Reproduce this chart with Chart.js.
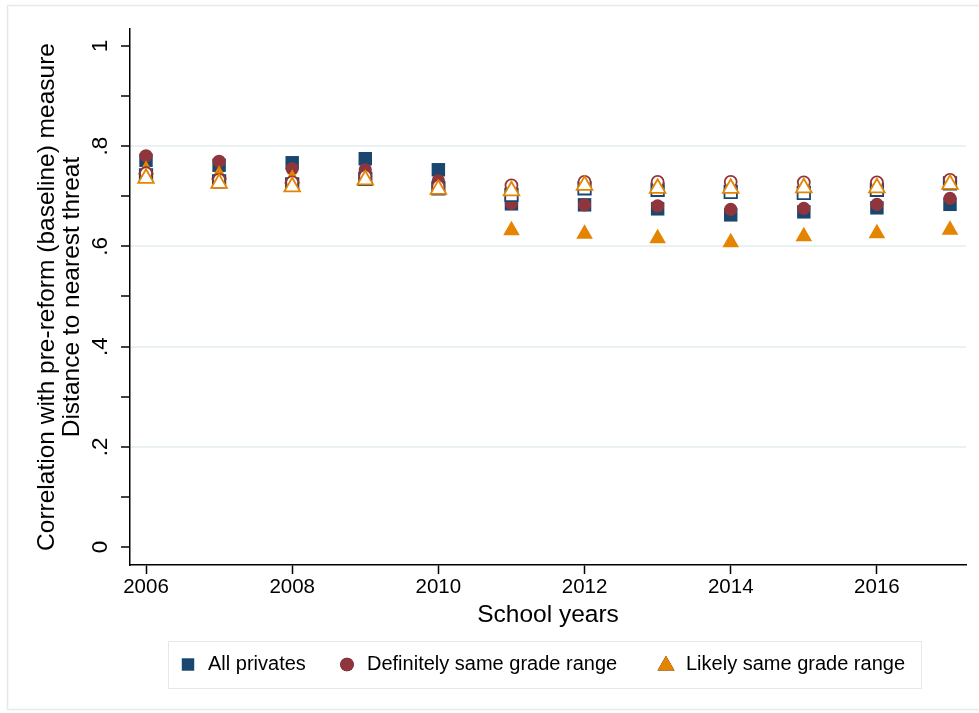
<!DOCTYPE html>
<html><head><meta charset="utf-8">
<script src="https://cdn.jsdelivr.net/npm/chart.js@4/dist/chart.umd.min.js"></script>
<style>html,body{margin:0;padding:0;background:#fff;overflow:hidden}#wrap{position:relative;width:979px;height:713px}</style>
</head><body><div id="wrap"><canvas id="c" width="979" height="713"></canvas></div>
<script>
// ---- data ----
const years = [2006, 2007, 2008, 2009, 2010, 2011, 2012, 2013, 2014, 2015, 2016, 2017];
const allPrivatesFilled   = [0.772, 0.762, 0.767, 0.775, 0.753, 0.685, 0.683, 0.675, 0.663, 0.669, 0.677, 0.684];
const definitelySameFilled = [0.781, 0.770, 0.755, 0.753, 0.731, 0.686, 0.683, 0.681, 0.674, 0.676, 0.684, 0.696];
const likelySameFilled    = [0.753, 0.743, 0.735, 0.730, 0.713, 0.632, 0.625, 0.616, 0.608, 0.620, 0.626, 0.633];
const allPrivatesHollow   = [0.742, 0.730, 0.724, 0.735, 0.716, 0.703, 0.716, 0.713, 0.709, 0.707, 0.713, 0.726];
const definitelySameHollow = [0.746, 0.733, 0.728, 0.740, 0.720, 0.722, 0.729, 0.729, 0.729, 0.728, 0.728, 0.733];
const likelySameHollow    = [0.736, 0.726, 0.719, 0.733, 0.714, 0.711, 0.722, 0.716, 0.716, 0.717, 0.717, 0.724];
const seriesLabels = ['All privates', 'Definitely same grade range', 'Likely same grade range'];
const yTickValues = [0, 0.1, 0.2, 0.3, 0.4, 0.5, 0.6, 0.7, 0.8, 0.9, 1];
const yLabelValues = [0, 0.2, 0.4, 0.6, 0.8, 1];
const yTickLabels = ['0', '.2', '.4', '.6', '.8', '1'];
const yGridValues = [0.2, 0.4, 0.6, 0.8];
const xTickValues = [2006, 2008, 2010, 2012, 2014, 2016];
const xTickLabels = ['2006', '2008', '2010', '2012', '2014', '2016'];
const yTitle = ['Correlation with pre-reform (baseline) measure', 'Distance to nearest threat'];
const xTitle = 'School years';

// ---- styles ----
const NAVY = '#1a476f', MAROON = '#90353b', ORANGE = '#e58400';
const FONT = "'Liberation Sans', Arial, sans-serif";
Chart.defaults.font.family = FONT;
Chart.defaults.color = '#000';

const pts = arr => years.map((x, i) => ({x: x, y: arr[i]}));
const near = (a, b) => Math.abs(a - b) < 1e-6;

const datasets = [
  {label: seriesLabels[0], data: pts(allPrivatesFilled), pointStyle: 'rect', pointRadius: 9.5, backgroundColor: NAVY, borderColor: NAVY, borderWidth: 0, order: 6, legend: true},
  {label: seriesLabels[1], data: pts(definitelySameFilled), pointStyle: 'circle', pointRadius: 6.6, backgroundColor: MAROON, borderColor: MAROON, borderWidth: 0, order: 5, legend: true},
  {label: seriesLabels[2], data: pts(likelySameFilled), pointStyle: 'triangle', pointRadius: 9.6, backgroundColor: ORANGE, borderColor: ORANGE, borderWidth: 0, order: 4, legend: true},
  {label: seriesLabels[0] + ' (hollow)', data: pts(allPrivatesHollow), pointStyle: 'rect', pointRadius: 8.8, backgroundColor: '#fff', borderColor: NAVY, borderWidth: 1.8, order: 3},
  {label: seriesLabels[1] + ' (hollow)', data: pts(definitelySameHollow), pointStyle: 'circle', pointRadius: 6, backgroundColor: '#fff', borderColor: MAROON, borderWidth: 1.8, order: 2},
  {label: seriesLabels[2] + ' (hollow)', data: pts(likelySameHollow), pointStyle: 'triangle', pointRadius: 9, backgroundColor: '#fff', borderColor: ORANGE, borderWidth: 1.8, order: 1}
];

const framePlugin = {
  id: 'frame',
  beforeDraw(chart) {
    const ctx = chart.ctx;
    ctx.save();
    ctx.fillStyle = '#fff';
    ctx.fillRect(0, 0, chart.width, chart.height);
    ctx.strokeStyle = '#e2eaec';
    ctx.lineWidth = 1.5;
    ctx.strokeRect(7.5, 5.5, 990, 704);
    ctx.restore();
  }
};

const legendKeyX = [188, 347, 666];
const legendPlugin = {
  id: 'stataLegend',
  afterDraw(chart) {
    const ctx = chart.ctx;
    ctx.save();
    ctx.fillStyle = '#fff';
    ctx.fillRect(168.5, 641.5, 753, 47);
    ctx.strokeStyle = '#e2eaec';
    ctx.lineWidth = 1;
    ctx.strokeRect(168.5, 641.5, 753, 47);
    ctx.font = '20px ' + FONT;
    ctx.textBaseline = 'middle';
    ctx.textAlign = 'left';
    const cy = 664.5;
    chart.data.datasets.filter(d => d.legend).forEach((d, i) => {
      const x = legendKeyX[i];
      Chart.helpers.drawPoint(ctx, {pointStyle: d.pointStyle, radius: d.pointStyle === 'rect' ? 8.8 : (d.pointStyle === 'circle' ? 6.8 : 9.8), rotation: 0, borderWidth: 0}, x, d.pointStyle === 'triangle' ? cy + 1 : cy);
      ctx.fillStyle = d.backgroundColor;
      ctx.fill();
      ctx.fillStyle = '#000';
      ctx.fillText(d.label, x + 20, cy);
    });
    ctx.restore();
  }
};

new Chart(document.getElementById('c'), {
  type: 'scatter',
  data: {datasets: datasets},
  plugins: [framePlugin, legendPlugin],
  options: {
    responsive: false,
    animation: false,
    devicePixelRatio: 1,
    layout: {padding: {left: 0, top: 29, right: 13, bottom: 0}},
    plugins: {legend: {display: false}, tooltip: {enabled: false}, title: {display: false}},
    elements: {point: {hoverRadius: 0}},
    scales: {
      x: {
        type: 'linear',
        min: 2005.781, max: 2017.219,
        afterBuildTicks: s => { s.ticks = xTickValues.map(v => ({value: v})); },
        afterFit: s => { s.height = 148; },
        ticks: {
          font: {size: 20.5},
          color: '#000',
          padding: 1,
          maxRotation: 0,
          autoSkip: false,
          callback: v => { const i = xTickValues.indexOf(v); return i >= 0 ? xTickLabels[i] : ''; }
        },
        grid: {drawOnChartArea: false, drawTicks: true, tickLength: 9, tickColor: '#000', tickWidth: 1.5},
        border: {display: true, color: '#000', width: 1.5},
        title: {display: true, text: xTitle, font: {size: 24.5, lineHeight: 1.2}, color: '#000', padding: {top: 0, bottom: 83}}
      },
      y: {
        type: 'linear',
        min: -0.036, max: 1.034,
        afterBuildTicks: s => { s.ticks = yTickValues.map(v => ({value: v})); },
        afterFit: s => { s.width = 130; },
        ticks: {
          font: {size: 22.5},
          color: '#000',
          padding: 11,
          minRotation: 90, maxRotation: 90,
          crossAlign: 'center',
          autoSkip: false,
          callback: v => { const i = yLabelValues.findIndex(u => near(u, v)); return i >= 0 ? yTickLabels[i] : ''; }
        },
        grid: {
          drawOnChartArea: true,
          color: c => (c.tick && yGridValues.some(g => near(g, c.tick.value))) ? '#e9f1f2' : 'rgba(0,0,0,0)',
          lineWidth: 2,
          tickLength: 9, tickColor: '#000', tickWidth: 1.5
        },
        border: {display: true, color: '#000', width: 1.5},
        title: {display: true, text: yTitle, font: {size: 24.5, lineHeight: 1.02}, color: '#000', padding: {top: 34.5, bottom: 0}}
      }
    }
  }
});
</script></body></html>
